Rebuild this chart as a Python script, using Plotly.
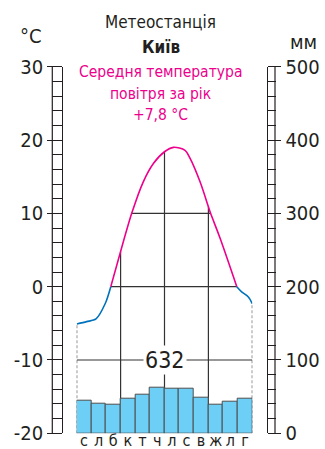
import numpy as np
import plotly.graph_objects as go

W, H = 325, 449

# ---- data ---------------------------------------------------------------
months = ["с", "л", "б", "к", "т", "ч", "л", "с", "в", "ж", "л", "г"]
precip_mm = [44, 41, 39.5, 47, 52, 62.7, 61.4, 61.4, 49, 39.5, 43, 47]
annual_precip = "632"

# temperature curve: position along the year (months from 1 Jan) and °C
curve_pos = [0, 0.68, 1.32, 1.95, 2.33, 3.0, 3.76, 4.55, 5.24, 6.0, 6.61,
             7.40, 7.75, 8.43, 9.0, 9.15, 9.8, 10.94, 11.27, 11.73, 12]
curve_temp = [-5.1, -4.77, -4.4, -2.3, 0, 4.8, 10, 14.3, 16.8, 18.4, 19.0,
              18.6, 17.5, 14.3, 10.9, 10, 6.6, 0, -0.7, -1.4, -2.3]

temp_ticks = [30, 20, 10, 0, -10, -20]
mm_ticks = [0, 100, 200, 300, 400, 500]

INK = "#231f20"
MAGENTA = "#ec008c"
BLUE = "#0072bc"
BAR = "#6dcff6"
FONT = "DejaVu Sans Condensed, Liberation Sans Narrow, sans-serif"

# plot frame in pixels
X0, X1 = 76.7, 252.3
Y_TOP, Y_BOT = 66.7, 433.3


def px(x, y):
    return x / W, 1 - y / H


centers = [i + 0.5 for i in range(12)]

fig = go.Figure()

# precipitation bars (right axis)
fig.add_trace(go.Bar(
    x=centers, y=precip_mm, width=1, yaxis="y2",
    marker=dict(color=BAR, line=dict(color="#4d4d4d", width=1)),
    hoverinfo="skip", showlegend=False,
))

# temperature curve, split where it crosses 0 °C
zero_idx = [i for i, t in enumerate(curve_temp) if t == 0]
segments = [
    (0, zero_idx[0], BLUE),
    (zero_idx[0], zero_idx[1], MAGENTA),
    (zero_idx[1], len(curve_pos) - 1, BLUE),
]
for a, b, col in segments:
    fig.add_trace(go.Scatter(
        x=curve_pos[a:b + 1], y=curve_temp[a:b + 1], mode="lines",
        line=dict(color=col, width=1.6, shape="spline", smoothing=0.8),
        hoverinfo="skip", showlegend=False,
    ))


def temp_at(p):
    return float(np.interp(p, curve_pos, curve_temp))


def crossings(level):
    out = []
    for i in range(len(curve_pos) - 1):
        t0, t1 = curve_temp[i], curve_temp[i + 1]
        if t0 == level:
            out.append(curve_pos[i])
        elif (t0 - level) * (t1 - level) < 0:
            f = (level - t0) / (t1 - t0)
            out.append(curve_pos[i] + f * (curve_pos[i + 1] - curve_pos[i]))
    if curve_temp[-1] == level:
        out.append(curve_pos[-1])
    return out


shapes = []
grid = dict(color="#333333", width=1.2)

# horizontal lines inside the curve
for level in (0, 10):
    c = crossings(level)
    shapes.append(dict(type="line", xref="x", yref="y", x0=c[0], x1=c[-1],
                       y0=level, y1=level, line=grid, layer="below"))
shapes.append(dict(type="line", xref="x", yref="y", x0=0, x1=12,
                   y0=-10, y1=-10, line=grid, layer="below"))

# vertical lines at season boundaries, up to the curve
for p in (3, 6, 9):
    shapes.append(dict(type="line", xref="x", yref="y", x0=p, x1=p,
                       y0=-20, y1=temp_at(p), line=grid, layer="below"))
for p in (0, 12):
    shapes.append(dict(type="line", xref="x", yref="y", x0=p, x1=p,
                       y0=-20, y1=temp_at(p),
                       line=dict(color="#333333", width=1.1, dash="3px,2px"),
                       layer="below"))

# second rails of the ladder scales
for xp in (52.3, 275.0):
    shapes.append(dict(type="line", xref="paper", yref="y",
                       x0=xp / W, x1=xp / W, y0=-20, y1=30,
                       line=dict(color=INK, width=1.2)))

annotations = [
    dict(text=annual_precip, xref="x", yref="y", x=6, y=-10,
         showarrow=False, bgcolor="white", borderpad=1,
         font=dict(family=FONT, size=23, color=INK)),
]


def label(text, x, y, size, color=INK, xanchor="center", bold=False):
    xp, yp = px(x, y)
    if bold:
        text = "<b>" + text + "</b>"
    annotations.append(dict(text=text, xref="paper", yref="paper", x=xp, y=yp,
                            xanchor=xanchor, yanchor="middle", showarrow=False,
                            font=dict(family=FONT, size=size, color=color)))


label("Метеостанція", 160, 22, 17)
label("Київ", 161, 47, 17, bold=True)
label("°C", 44, 36, 20, xanchor="right")
label("мм", 288, 42, 20, xanchor="left")
label("Середня температура", 160, 72, 15.5, color=MAGENTA)
label("повітря за рік", 160, 94, 15.5, color=MAGENTA)
label("+7,8 °С", 160, 115, 15.5, color=MAGENTA)

fig.update_layout(
    width=W, height=H,
    margin=dict(l=0, r=0, t=0, b=0, autoexpand=False),
    paper_bgcolor="white", plot_bgcolor="white",
    bargap=0,
    shapes=shapes, annotations=annotations,
    xaxis=dict(
        domain=[X0 / W, X1 / W], range=[0, 12],
        tickmode="array", tickvals=centers, ticktext=months, tickangle=0,
        ticks="", showgrid=False, zeroline=False, showline=False,
        ticklabelstandoff=-4,
        tickfont=dict(family=FONT, size=16, color=INK),
        automargin=False, fixedrange=True,
    ),
    yaxis=dict(
        domain=[1 - Y_BOT / H, 1 - Y_TOP / H], range=[-20, 30],
        anchor="free", position=62.3 / W, side="left",
        tickmode="array", tickvals=temp_ticks,
        ticktext=[str(t) for t in temp_ticks],
        ticks="outside", ticklen=15, tickwidth=1.2, tickcolor=INK,
        minor=dict(ticks="outside", ticklen=10, tickwidth=1.2,
                   tickcolor=INK, tickmode="linear", tick0=0, dtick=2),
        showline=True, linecolor=INK, linewidth=1.2,
        showgrid=False, zeroline=False,
        tickfont=dict(family=FONT, size=20, color=INK),
        automargin=False, fixedrange=True,
    ),
    yaxis2=dict(
        domain=[1 - Y_BOT / H, 1 - Y_TOP / H], range=[0, 500],
        overlaying="y", anchor="free", position=267.3 / W, side="right",
        tickmode="array", tickvals=mm_ticks,
        ticks="outside", ticklen=13, tickwidth=1.2, tickcolor=INK,
        minor=dict(ticks="outside", ticklen=8, tickwidth=1.2,
                   tickcolor=INK, tickmode="linear", tick0=0, dtick=20),
        showline=True, linecolor=INK, linewidth=1.2,
        showgrid=False, zeroline=False,
        tickfont=dict(family=FONT, size=20, color=INK),
        automargin=False, fixedrange=True,
    ),
)

fig.write_html("out.html", config={"displayModeBar": False})
